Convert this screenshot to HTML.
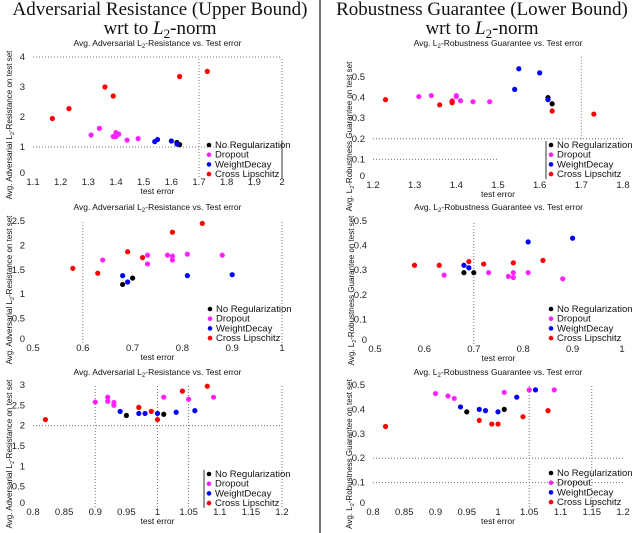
<!DOCTYPE html>
<html><head><meta charset="utf-8">
<style>
html,body{margin:0;padding:0;background:#fff;}
svg{display:block;font-family:"Liberation Sans",sans-serif;}
.main{font-family:"Liberation Serif",serif;font-size:19px;fill:#111;}
.st{font-size:8.5px;fill:#111;}
.yl{font-size:8px;fill:#111;}
.tk{font-size:9.5px;fill:#222;}
.lg{font-size:9.5px;fill:#111;}
</style></head>
<body>
<svg id="fig" width="640" height="533" viewBox="0 0 640 533">
<text class="main" x="160" y="15" text-anchor="middle">Adversarial Resistance (Upper Bound)</text>
<text class="main" x="160" y="34" text-anchor="middle">wrt to <tspan font-style="italic">L</tspan><tspan font-size="13" dy="4">2</tspan><tspan dy="-4">-norm</tspan></text>
<text class="main" x="482" y="15" text-anchor="middle">Robustness Guarantee (Lower Bound)</text>
<text class="main" x="482" y="34" text-anchor="middle">wrt to <tspan font-style="italic">L</tspan><tspan font-size="13" dy="4">2</tspan><tspan dy="-4">-norm</tspan></text>
<line x1="320" y1="0" x2="320" y2="533" stroke="#777" stroke-width="2"/>
</svg>
<script>
// Panel 1: resistance, top
const p1_cross_x=[1.17,1.23,1.36,1.39,1.63,1.73];
const p1_cross_y=[1.95,2.28,3.0,2.7,3.35,3.52];
const p1_drop_x=[1.31,1.34,1.39,1.40,1.40,1.41,1.44,1.48];
const p1_drop_y=[1.4,1.62,1.35,1.48,1.35,1.43,1.23,1.28];
const p1_wd_x=[1.54,1.55,1.60,1.62];
const p1_wd_y=[1.18,1.25,1.2,1.1];
const p1_nr_x=[1.62,1.63];
const p1_nr_y=[1.15,1.08];
const p1_xticks=[1.1,1.2,1.3,1.4,1.5,1.6,1.7,1.8,1.9,2];
const p1_yticks=[0,1,2,3,4];
// Panel 2: guarantee, top
const p2_cross_x=[1.23,1.36,1.39,1.39,1.63,1.73];
const p2_cross_y=[0.39,0.365,0.375,0.38,0.335,0.32];
const p2_drop_x=[1.31,1.34,1.39,1.40,1.40,1.41,1.44,1.48];
const p2_drop_y=[0.405,0.41,0.385,0.41,0.405,0.385,0.38,0.38];
const p2_wd_x=[1.54,1.55,1.60,1.62];
const p2_wd_y=[0.44,0.54,0.52,0.39];
const p2_nr_x=[1.62,1.63];
const p2_nr_y=[0.40,0.37];
const p2_xticks=[1.2,1.3,1.4,1.5,1.6,1.7,1.8];
const p2_yticks=[0,0.1,0.2,0.3,0.4,0.5];
// Panel 3: resistance, middle
const p3_cross_x=[0.58,0.63,0.69,0.72,0.78,0.84];
const p3_cross_y=[1.53,1.43,1.87,1.75,2.27,2.45];
const p3_drop_x=[0.64,0.73,0.73,0.77,0.78,0.78,0.81,0.88];
const p3_drop_y=[1.7,1.8,1.62,1.8,1.78,1.7,1.82,1.8];
const p3_wd_x=[0.68,0.69,0.81,0.9];
const p3_wd_y=[1.38,1.25,1.38,1.4];
const p3_nr_x=[0.68,0.70];
const p3_nr_y=[1.2,1.33];
const p3_xticks=[0.5,0.6,0.7,0.8,0.9,1];
const p3_yticks=[0,0.5,1,1.5,2,2.5];
// Panel 4: guarantee, middle
const p4_cross_x=[0.58,0.63,0.69,0.72,0.78,0.84];
const p4_cross_y=[0.32,0.32,0.335,0.325,0.33,0.34];
const p4_drop_x=[0.64,0.73,0.77,0.78,0.78,0.81,0.88];
const p4_drop_y=[0.28,0.29,0.275,0.29,0.27,0.29,0.265];
const p4_wd_x=[0.68,0.69,0.81,0.9];
const p4_wd_y=[0.32,0.31,0.415,0.43];
const p4_nr_x=[0.68,0.70];
const p4_nr_y=[0.29,0.29];
const p4_xticks=[0.5,0.6,0.7,0.8,0.9,1];
const p4_yticks=[0,0.1,0.2,0.3,0.4,0.5];
// Panel 5: resistance, bottom
const p5_cross_x=[0.82,0.97,0.99,1.0,1.04,1.08];
const p5_cross_y=[2.15,2.45,2.35,2.15,2.85,2.97];
const p5_drop_x=[0.9,0.92,0.92,0.93,0.93,1.01,1.05,1.09];
const p5_drop_y=[2.58,2.7,2.6,2.57,2.5,2.7,2.65,2.7];
const p5_wd_x=[0.94,0.97,0.98,1.0,1.03,1.06];
const p5_wd_y=[2.35,2.3,2.3,2.3,2.33,2.37];
const p5_nr_x=[0.95,1.01];
const p5_nr_y=[2.25,2.28];
const p5_xticks=[0.8,0.85,0.9,0.95,1,1.05,1.1,1.15,1.2];
const p5_yticks=[0,0.5,1,1.5,2,2.5,3];
// Panel 6: guarantee, bottom
const p6_cross_x=[0.82,0.97,0.99,1.0,1.04,1.08];
const p6_cross_y=[0.33,0.355,0.34,0.34,0.37,0.395];
const p6_drop_x=[0.9,0.92,0.93,1.01,1.05,1.09];
const p6_drop_y=[0.465,0.455,0.445,0.47,0.48,0.48];
const p6_wd_x=[0.94,0.97,0.98,1.0,1.03,1.06];
const p6_wd_y=[0.41,0.4,0.395,0.39,0.45,0.48];
const p6_nr_x=[0.95,1.01];
const p6_nr_y=[0.39,0.4];
const p6_xticks=[0.8,0.85,0.9,0.95,1,1.05,1.1,1.15,1.2];
const p6_yticks=[0,0.1,0.2,0.3,0.4,0.5];
const legendLabels=["No Regularization","Dropout","WeightDecay","Cross Lipschitz"];

const NS="http://www.w3.org/2000/svg";
const svg=document.getElementById('fig');
function mk(tag,attrs,parent){const e=document.createElementNS(NS,tag);for(const k in attrs)e.setAttribute(k,attrs[k]);(parent||svg).appendChild(e);return e;}

const panels=[
 {id:'p1',px0:33,px1:282,x0:1.1,x1:2,py0:177,py1:57,y0:0,y1:4,xt:p1_xticks,yt:p1_yticks,title:'resistance',ty:46,
  s:[[p1_nr_x,p1_nr_y],[p1_drop_x,p1_drop_y],[p1_wd_x,p1_wd_y],[p1_cross_x,p1_cross_y]],
  h:[[4,1.1,2],[1,1.1,2]],v:[[1.7,0,4],[2,0,4]],lx:209,ly:148,bar:'right'},
 {id:'p2',px0:373,px1:623,x0:1.2,x1:1.8,py0:180,py1:77,y0:0,y1:0.5,xt:p2_xticks,yt:p2_yticks,title:'guarantee',ty:46,
  s:[[p2_nr_x,p2_nr_y],[p2_drop_x,p2_drop_y],[p2_wd_x,p2_wd_y],[p2_cross_x,p2_cross_y]],
  h:[[0.2,1.2,1.8],[0.1,1.2,1.5]],v:[[1.7,0.2,0.6]],lx:551,ly:148,bar:'left'},
 {id:'p3',px0:33,px1:282,x0:0.5,x1:1,py0:343,py1:221,y0:0,y1:2.5,xt:p3_xticks,yt:p3_yticks,title:'resistance',ty:210,
  s:[[p3_nr_x,p3_nr_y],[p3_drop_x,p3_drop_y],[p3_wd_x,p3_wd_y],[p3_cross_x,p3_cross_y]],
  h:[],v:[[0.6,0,2.5],[1,0,2.5]],lx:210,ly:312,bar:'none'},
 {id:'p4',px0:375,px1:622,x0:0.5,x1:1,py0:344,py1:221,y0:0,y1:0.5,xt:p4_xticks,yt:p4_yticks,title:'guarantee',ty:210,
  s:[[p4_nr_x,p4_nr_y],[p4_drop_x,p4_drop_y],[p4_wd_x,p4_wd_y],[p4_cross_x,p4_cross_y]],
  h:[],v:[[0.7,0,0.5]],lx:551,ly:312,bar:'none'},
 {id:'p5',px0:33,px1:282,x0:0.8,x1:1.2,py0:507,py1:385,y0:0,y1:3,xt:p5_xticks,yt:p5_yticks,title:'resistance',ty:375,
  s:[[p5_nr_x,p5_nr_y],[p5_drop_x,p5_drop_y],[p5_wd_x,p5_wd_y],[p5_cross_x,p5_cross_y]],
  h:[[2,0.8,1.2]],v:[[0.9,0,3],[1,0,3],[1.05,0,3],[1.2,0,3]],lx:209,ly:477,bar:'left'},
 {id:'p6',px0:373,px1:623,x0:0.8,x1:1.2,py0:507,py1:385,y0:0,y1:0.5,xt:p6_xticks,yt:p6_yticks,title:'guarantee',ty:375,
  s:[[p6_nr_x,p6_nr_y],[p6_drop_x,p6_drop_y],[p6_wd_x,p6_wd_y],[p6_cross_x,p6_cross_y]],
  h:[[0.2,0.8,1.2],[0.1,0.8,1.2]],v:[[1.05,0,0.5],[1.15,0,0.5]],lx:551,ly:476,bar:'none'}
];
const colors=['#000','#ff22ff','#0000ff','#ff0000'];
const seriesNames=['no-regularization','dropout','weight-decay','cross-lipschitz'];

panels.forEach(p=>{
 const X=v=>p.px0+(v-p.x0)/(p.x1-p.x0)*(p.px1-p.px0);
 const Y=v=>p.py0-(v-p.y0)/(p.y1-p.y0)*(p.py0-p.py1);
 const g=mk('g',{});
 
 
 const cx=(p.px0+p.px1)/2;
 const t=mk('text',{class:'st',x:cx,y:p.ty,'text-anchor':'middle'},g);
 
 
 if(p.title==='resistance'){t.innerHTML='Avg. Adversarial L<tspan font-size="6" dy="2">2</tspan><tspan dy="-2">-Resistance vs. Test error</tspan>';}
 else{t.innerHTML='Avg. L<tspan font-size="6" dy="2">2</tspan><tspan dy="-2">-Robustness Guarantee vs. Test error</tspan>';}
 p.h.forEach(h=>{const l=mk('line',{x1:X(h[1]),x2:X(h[2]),y1:Y(h[0]),y2:Y(h[0]),stroke:'#777','stroke-width':1,'stroke-dasharray':'1,2'},g);
  
  });
 p.v.forEach(v=>{const l=mk('line',{x1:X(v[0]),x2:X(v[0]),y1:Y(v[1]),y2:Y(v[2]),stroke:'#777','stroke-width':1,'stroke-dasharray':'1,2'},g);
  
  });
 p.xt.forEach(v=>{const tt=mk('text',{class:'tk',x:X(v),y:p.py0+8,'text-anchor':'middle'},g);tt.textContent=String(v);
  
  });
 p.yt.forEach(v=>{const tt=mk('text',{class:'tk',x:p.px0-8,y:Y(v)+(v===0?-1:3),'text-anchor':'end'},g);tt.textContent=String(v);
  
  });
 const xl=mk('text',{class:'st',x:cx,y:p.py0+17,'text-anchor':'middle'},g);xl.textContent='test error';
 
 
 const yc=(p.py0+p.py1)/2+8;
 const yl=mk('text',{class:'yl',x:0,y:0,'text-anchor':'middle',transform:'translate('+(p.px0-21)+','+yc+') rotate(-90)'},g);
 
 
 if(p.title==='resistance')yl.innerHTML='Avg. Adversarial L<tspan font-size="5.5" dy="2">2</tspan><tspan dy="-2">-Resistance on test set</tspan>';
 else yl.innerHTML='Avg. L<tspan font-size="5.5" dy="2">2</tspan><tspan dy="-2">-Robustness Guarantee on test set</tspan>';
 p.s.forEach((s,i)=>{s[0].forEach((xv,j)=>{const c=mk('circle',{cx:X(xv),cy:Y(s[1][j]),r:2.6,fill:colors[i]},g);
  
  });});
 const lg=mk('g',{},g);
 
 
 legendLabels.forEach((lab,i)=>{const y=p.ly+i*9.7;
  mk('circle',{cx:p.lx,cy:y-3,r:2.3,fill:colors[i]},lg);
  const tx=mk('text',{class:'lg',x:p.lx+6,y:y},lg);tx.textContent=lab;
  
  });
 if(p.bar!=='none'){const bx=p.bar==='right'?p.lx+73:p.lx-5;
  mk('line',{x1:bx,x2:bx,y1:p.ly-7,y2:p.ly+31,stroke:'#333','stroke-width':1},lg);}
});
</script>
</body></html>
